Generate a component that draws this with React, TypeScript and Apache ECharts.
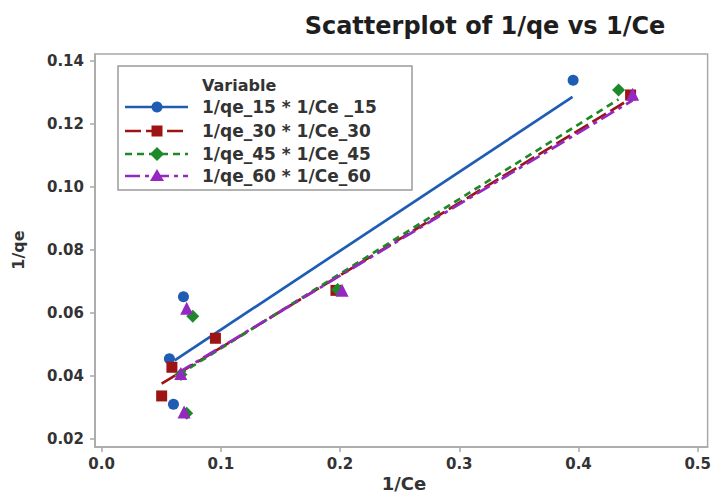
import React, { useEffect, useRef } from "react";
import * as echarts from "echarts";

// ---- data ----
const seriesNames = ["1/qe_15 * 1/Ce _15", "1/qe_30 * 1/Ce_30", "1/qe_45 * 1/Ce_45", "1/qe_60 * 1/Ce_60"];

const x15 = [0.0569, 0.0603, 0.0687, 0.3955];
const y15 = [0.0455, 0.0311, 0.0652, 0.1339];

const x30 = [0.0504, 0.059, 0.0955, 0.1966, 0.4437];
const y30 = [0.0337, 0.0428, 0.052, 0.0672, 0.1292];

const x45 = [0.0666, 0.0714, 0.0765, 0.198, 0.4336];
const y45 = [0.0405, 0.0282, 0.059, 0.0675, 0.1308];

const x60 = [0.0664, 0.0692, 0.0714, 0.2017, 0.4454];
const y60 = [0.0408, 0.0286, 0.0615, 0.0672, 0.1294];

// fitted regression lines as drawn (start / end points)
const fit15 = [[0.0613, 0.045], [0.395, 0.1286]];
const fit30 = [[0.0504, 0.0376], [0.4437, 0.128]];
const fit45 = [[0.0655, 0.0406], [0.4336, 0.1278]];
const fit60 = [[0.0644, 0.0411], [0.4454, 0.1275]];

const xTicks = [0, 0.1, 0.2, 0.3, 0.4, 0.5];
const yTicks = [0.02, 0.04, 0.06, 0.08, 0.1, 0.12, 0.14];

const colors = ["#1f5cb3", "#9e1414", "#1d8a2a", "#9428c0"];
const symbols = ["circle", "rect", "diamond", "triangle"];
const symbolSizes = [11, 11, 13, 13];
const dashes: any[] = ["solid", [16, 5], [7, 5], [15, 5, 4, 5]];

const FONT = "'DejaVu Sans', sans-serif";
const TXT = "#333333";

function zip(xs: number[], ys: number[]) {
  return xs.map((x, i) => [x, ys[i]]);
}

export default function App() {
  const ref = useRef<HTMLDivElement>(null);
  useEffect(() => {
    if (!ref.current) return;
    const chart = echarts.init(ref.current, null, { renderer: "svg" });
    const pts = [zip(x15, y15), zip(x30, y30), zip(x45, y45), zip(x60, y60)];
    const fits = [fit15, fit30, fit45, fit60];

    const lineSeries = fits.map((f, i) => ({
      type: "line",
      name: seriesNames[i] + " fit",
      data: f,
      symbol: "none",
      lineStyle: { color: colors[i], width: 2.7, type: dashes[i] },
      z: 2,
    }));
    const scatterSeries = pts.map((p, i) => ({
      type: "scatter",
      name: seriesNames[i],
      data: p,
      symbol: symbols[i],
      symbolSize: symbolSizes[i],
      itemStyle: { color: colors[i], opacity: 1 },
      z: 3,
    }));

    // legend drawn as graphic
    const lgX0 = 125, lgX1 = 188, lgMid = 157, lgText = 202;
    const rowsY = [107, 131, 154, 176];
    const legendEls: any[] = [
      {
        type: "rect",
        shape: { x: 118, y: 66, width: 294, height: 124 },
        style: { fill: "#ffffff", stroke: "#9a9a9a", lineWidth: 1.5 },
        z: 10,
      },
      {
        type: "text",
        x: 202,
        y: 85,
        style: { text: "Variable", fill: TXT, font: `bold 16px ${FONT}`, textVerticalAlign: "middle" },
        z: 11,
      },
    ];
    rowsY.forEach((yy, i) => {
      legendEls.push({
        type: "line",
        shape: { x1: lgX0, y1: yy, x2: lgX1, y2: yy },
        style: { stroke: colors[i], lineWidth: 2.7, lineDash: dashes[i] === "solid" ? null : dashes[i] },
        z: 11,
      });
      let marker: any;
      if (i === 0) marker = { type: "circle", shape: { cx: lgMid, cy: yy, r: 5.5 } };
      else if (i === 1) marker = { type: "rect", shape: { x: lgMid - 5.5, y: yy - 5.5, width: 11, height: 11 } };
      else if (i === 2)
        marker = { type: "polygon", shape: { points: [[lgMid, yy - 7], [lgMid + 7, yy], [lgMid, yy + 7], [lgMid - 7, yy]] } };
      else marker = { type: "polygon", shape: { points: [[lgMid, yy - 7], [lgMid + 7, yy + 5], [lgMid - 7, yy + 5]] } };
      marker.style = { fill: colors[i] };
      marker.z = 12;
      legendEls.push(marker);
      legendEls.push({
        type: "text",
        x: lgText,
        y: yy,
        style: { text: seriesNames[i], fill: TXT, font: `bold 17px ${FONT}`, textVerticalAlign: "middle" },
        z: 11,
      });
    });

    chart.setOption({
      animation: false,
      backgroundColor: "#ffffff",
      grid: {
        left: 95,
        right: 3,
        top: 54,
        bottom: 48,
        containLabel: false,
        show: true,
        borderColor: "#a8a8a8",
        borderWidth: 1.5,
        backgroundColor: "transparent",
      },
      xAxis: {
        type: "value",
        min: -0.0055,
        max: 0.5083,
        splitLine: { show: false },
        axisLine: { show: true, onZero: false, lineStyle: { color: "#a8a8a8", width: 1.5 } },
        axisTick: { show: true, customValues: xTicks, length: 5, lineStyle: { color: "#a8a8a8", width: 1.5 } },
        axisLabel: {
          customValues: xTicks,
          formatter: (v: number) => v.toFixed(1),
          color: TXT,
          fontFamily: FONT,
          fontWeight: "bold",
          fontSize: 15,
          margin: 9,
        },
      },
      yAxis: {
        type: "value",
        min: 0.0175,
        max: 0.1422,
        splitLine: { show: false },
        axisLine: { show: true, onZero: false, lineStyle: { color: "#a8a8a8", width: 1.5 } },
        axisTick: { show: true, customValues: yTicks, length: 5, lineStyle: { color: "#a8a8a8", width: 1.5 } },
        axisLabel: {
          customValues: yTicks,
          formatter: (v: number) => v.toFixed(2),
          color: TXT,
          fontFamily: FONT,
          fontWeight: "bold",
          fontSize: 15,
          margin: 11,
        },
      },
      series: [...lineSeries, ...scatterSeries],
      graphic: [
        {
          type: "text",
          x: 485,
          y: 26,
          style: {
            text: "Scatterplot of 1/qe vs 1/Ce",
            fill: "#1e1e1e",
            font: `bold 24px ${FONT}`,
            textAlign: "center",
            textVerticalAlign: "middle",
          },
        },
        {
          type: "text",
          x: 404,
          y: 483,
          style: {
            text: "1/Ce",
            fill: TXT,
            font: `bold 18px ${FONT}`,
            textAlign: "center",
            textVerticalAlign: "middle",
          },
        },
        {
          type: "text",
          x: 18,
          y: 250,
          rotation: Math.PI / 2,
          style: {
            text: "1/qe",
            fill: TXT,
            font: `bold 16px ${FONT}`,
            textAlign: "center",
            textVerticalAlign: "middle",
          },
        },
        ...legendEls,
      ],
    });
    return () => chart.dispose();
  }, []);
  return <div ref={ref} style={{ width: 714, height: 495, position: "absolute", left: 0, top: 0 }} />;
}
